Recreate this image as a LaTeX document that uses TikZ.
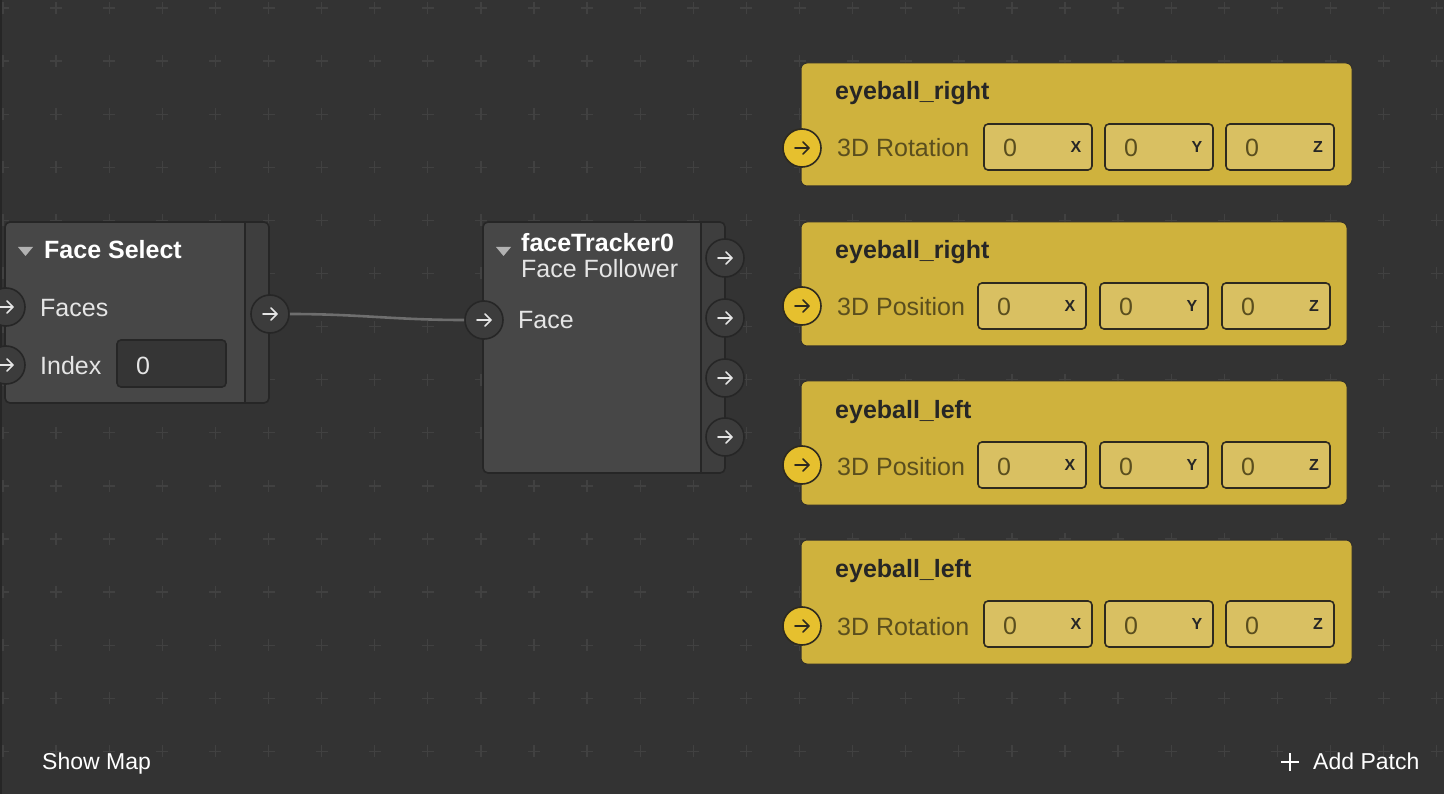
\documentclass[tikz,border=0pt]{standalone}
\usepackage{fontspec}
\setmainfont{Liberation Sans}
\usetikzlibrary{calc}
\definecolor{canvas}{HTML}{333333}
\definecolor{gridmark}{HTML}{414141}
\definecolor{patchbody}{HTML}{474747}
\definecolor{patchstrip}{HTML}{3E3E3E}
\definecolor{patchline}{HTML}{262626}
\definecolor{portfill}{HTML}{3C3C3C}
\definecolor{wire}{HTML}{6E6E6E}
\definecolor{cardbody}{HTML}{CFB23D}
\definecolor{cardfield}{HTML}{D9C062}
\definecolor{cardline}{HTML}{2E2A1F}
\definecolor{cardport}{HTML}{E6C02E}
\definecolor{cardlabel}{HTML}{5A4E1E}
\def\vecfield(#1,#2)#3{\draw[field] (#1,#2) rectangle ++(108,46);
  \node[fieldnum, anchor=base west] at ($(#1,#2)+(19,33)$) {0};
  \node[axis] at ($(#1,#2)+(92,23)$) {#3};}
\def\portarrow#1{\draw[#1, line width=1.7pt, line cap=round, line join=round]
  ($(path picture bounding box.center)+(-7,0)$) -- ++(14,0) ++(-6,-6) -- ++(6,6) -- ++(-6,6);}
\tikzset{
  txt/.style={anchor=base west, inner sep=0pt, text=white!90!black, font=\fontsize{25}{30}\selectfont},
  title/.style={txt, text=white, font=\bfseries\fontsize{25}{30}\selectfont},
  patch/.style={fill=patchbody, rounded corners=5pt},
  port/.style={circle, draw=patchline, fill=portfill, line width=1.6pt, minimum size=38pt, inner sep=0pt,
    path picture={\portarrow{white!90!black}}},
  yport/.style={circle, draw=cardline, fill=cardport, line width=1.6pt, minimum size=38pt, inner sep=0pt,
    path picture={\portarrow{cardline}}},
  card/.style={draw=cardline!40!canvas, fill=cardbody, line width=1pt, rounded corners=6pt},
  field/.style={draw=cardline, fill=cardfield, line width=1.6pt, rounded corners=4pt},
  fieldnum/.style={inner sep=0pt, text=cardlabel, font=\fontsize{25}{30}\selectfont},
  axis/.style={inner sep=0pt, text=black!85, font=\bfseries\fontsize{16}{16}\selectfont},
  ctitle/.style={txt, text=black!85, font=\bfseries\fontsize{25}{30}\selectfont},
  clabel/.style={txt, text=cardlabel},
}
\begin{document}
\begin{tikzpicture}[x=1pt, y=-1pt]
			%%%%% START %%%%%
			\useasboundingbox (0,0) rectangle (1444,794);
			\fill[canvas] (0,0) rectangle (1444,794);
			\foreach \i in {0,...,27} \foreach \j in {0,...,14}
				\draw[gridmark, line width=1.3pt] ({3+53.1*\i-6},{8+53.1*\j}) -- ++(12,0) ({3+53.1*\i},{8+53.1*\j-6}) -- ++(0,12);
			\fill[black!85] (0,0) rectangle (2,794);
			
			% Face Select
			\fill[patch] (5,222) rectangle (269,403);
			\begin{scope}
				\clip[rounded corners=5pt] (5,222) rectangle (269,403);
				\fill[patchstrip] (245,222) rectangle (269,403);
			\end{scope}
			\draw[patchline, line width=1.2pt] (245,222) -- (245,403);
			\draw[patchline, line width=1.6pt, rounded corners=5pt] (5,222) rectangle (269,403);
			\fill[black!30] (18,247) -- (33,247) -- (25.5,256) -- cycle;
			\node[title] (fsTitle) at (44,259) {Face Select};
			\node[txt] (fsFaces) at (40,317) {Faces};
			\node[txt] (fsIndex) at (40,374) {Index};
			\draw[patchline, fill=black!25!patchbody, line width=1.6pt, rounded corners=4pt] (117,340) rectangle (226,387);
			\node[txt] (fsValue) at (136,374) {0};
			\node[port] (fsFacesIn) at (6,307) {};
			\node[port] (fsIndexIn) at (6,365) {};
			\node[port] (fsOut) at (270,314) {};
			
			% faceTracker0
			\fill[patch] (483,222) rectangle (725,473);
			\begin{scope}
				\clip[rounded corners=5pt] (483,222) rectangle (725,473);
				\fill[patchstrip] (701,222) rectangle (725,473);
			\end{scope}
			\draw[patchline, line width=1.2pt] (701,222) -- (701,473);
			\draw[patchline, line width=1.6pt, rounded corners=5pt] (483,222) rectangle (725,473);
			\fill[black!30] (496,247) -- (511,247) -- (503.5,256) -- cycle;
			\node[title] (ftTitle) at (521,252) {faceTracker0};
			\node[txt] (ftKind) at (521,278) {Face Follower};
			\node[txt] (ftFace) at (518,329) {Face};
			\node[port] (ftIn) at (484,320) {};
			\node[port] (ftOutA) at (725,258) {};
			\node[port] (ftOutB) at (725,318) {};
			\node[port] (ftOutC) at (725,378) {};
			\node[port] (ftOutD) at (725,437) {};
			
			\draw[wire, line width=2.6pt] (fsOut.east) .. controls +(70,0) and +(-70,0) .. (ftIn.west);
			
			% eyeball_right, 3D Rotation
			\draw[card] (801,63) rectangle (1352,186);
			\node[ctitle] (rotRightTitle) at (835,100) {eyeball\_right};
			\node[clabel] (rotRightLabel) at (837,157) {3D Rotation};
			\vecfield(984,124){X}
			\vecfield(1105,124){Y}
			\vecfield(1226,124){Z}
			\node[yport] (rotRightIn) at (802,148) {};
			
			% eyeball_right, 3D Position
			\draw[card] (801,222) rectangle (1347,346);
			\node[ctitle] (posRightTitle) at (835,259) {eyeball\_right};
			\node[clabel] (posRightLabel) at (837,316) {3D Position};
			\vecfield(978,283){X}
			\vecfield(1100,283){Y}
			\vecfield(1222,283){Z}
			\node[yport] (posRightIn) at (802,306) {};
			
			% eyeball_left, 3D Position
			\draw[card] (801,381) rectangle (1347,505);
			\node[ctitle] (posLeftTitle) at (835,418) {eyeball\_left};
			\node[clabel] (posLeftLabel) at (837,475) {3D Position};
			\vecfield(978,442){X}
			\vecfield(1100,442){Y}
			\vecfield(1222,442){Z}
			\node[yport] (posLeftIn) at (802,465) {};
			
			% eyeball_left, 3D Rotation
			\draw[card] (801,540) rectangle (1352,664);
			\node[ctitle] (rotLeftTitle) at (835,577) {eyeball\_left};
			\node[clabel] (rotLeftLabel) at (837,635) {3D Rotation};
			\vecfield(984,601){X}
			\vecfield(1105,601){Y}
			\vecfield(1226,601){Z}
			\node[yport] (rotLeftIn) at (802,626) {};
			
			% bottom bar
			\node[txt, text=white, font=\fontsize{23}{28}\selectfont] (showMap) at (42,769) {Show Map};
			\draw[white, line width=2pt] (1281,762) -- (1299,762) (1290,753) -- (1290,771);
			\node[txt, text=white, font=\fontsize{23}{28}\selectfont] (addPatch) at (1313,769) {Add Patch};
			%%%%% END %%%%%
\end{tikzpicture}
\end{document}
